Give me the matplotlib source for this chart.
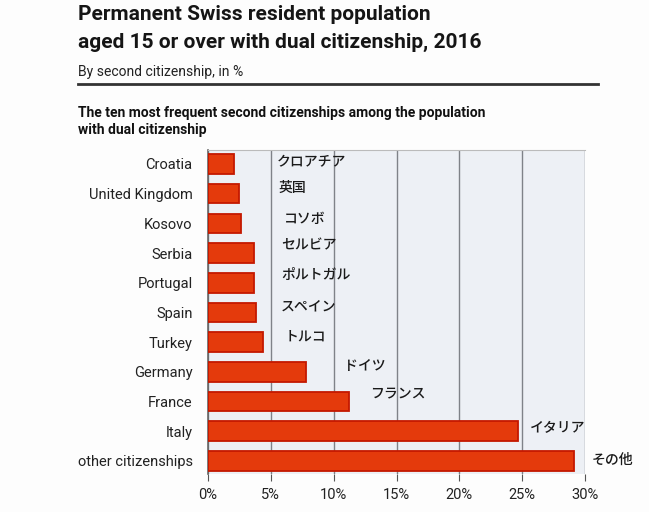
import numpy as np
import matplotlib.pyplot as plt

countries = ['Croatia', 'United Kingdom', 'Kosovo', 'Serbia', 'Portugal', 'Spain',
             'Turkey', 'Germany', 'France', 'Italy', 'other citizenships']
shares = [2.1, 2.5, 2.6, 3.7, 3.7, 3.8, 4.4, 7.8, 11.2, 24.7, 29.1]
names_jp = ['クロアチア', '英国', 'コソボ', 'セルビア', 'ポルトガル', 'スペイン',
            'トルコ', 'ドイツ', 'フランス', 'イタリア', 'その他']
xticks = [0, 5, 10, 15, 20, 25, 30]

# where the japanese notes sit (x in %, y shift in rows)
jp_x = [5.5, 5.6, 6.0, 5.8, 5.8, 5.8, 6.1, 10.8, 12.9, 25.6, 30.5]
jp_dy = [-0.05, -0.2, -0.15, -0.25, -0.25, -0.2, -0.2, -0.2, -0.25, -0.1, -0.05]

plt.rcParams['font.family'] = ['Roboto', 'DejaVu Sans']

fig = plt.figure(figsize=(6.49, 5.12), dpi=100)
fig.patch.set_facecolor('#fdfdfd')
ax = fig.add_axes([208/649, 1-474/512, 377/649, 324/512])
ax.set_facecolor('#edf0f5')

y = np.arange(len(countries))
ax.barh(y, shares, height=0.66, color='#e43a0c', edgecolor='#c41800', linewidth=1.3, zorder=3)
ax.set_ylim(len(countries)-0.56, -0.47)
ax.set_xlim(0, 30)
ax.set_yticks(y)
ax.set_yticklabels(countries, fontsize=10.5, color='#222222')
ax.set_xticks(xticks)
ax.set_xticklabels([f'{t}%' for t in xticks], fontsize=10.5, color='#222222')
ax.tick_params(axis='y', length=0, pad=11)
ax.tick_params(axis='x', length=5, color='#555555', pad=5)
ax.grid(axis='x', color='#7f8288', linewidth=1.0, zorder=1)

for s in ['right', 'bottom']:
    ax.spines[s].set_visible(False)
ax.spines['top'].set_color('#bbbbbb')
ax.spines['left'].set_color('#666666')
ax.spines['left'].set_linewidth(1.2)

for i, t in enumerate(names_jp):
    ax.text(jp_x[i], i + jp_dy[i], t, fontsize=10, va='center', ha='left', fontweight='medium',
            family=['Noto Sans CJK JP', 'DejaVu Sans'], color='#1a1a1a', zorder=4)

fig.text(78/649, 1-15/512, 'Permanent Swiss resident population', fontsize=15,
         fontweight='semibold', va='center', color='#151515')
fig.text(78/649, 1-42/512, 'aged 15 or over with dual citizenship, 2016', fontsize=15,
         fontweight='semibold', va='center', color='#151515')
fig.text(78/649, 1-72/512, 'By second citizenship, in %', fontsize=10,
         va='center', color='#222222')
fig.add_artist(plt.Line2D([78/649, 598/649], [1-84/512, 1-84/512], color='#333333', linewidth=2))
fig.text(78/649, 1-113/512, 'The ten most frequent second citizenships among the population',
         fontsize=10, fontweight='bold', va='center', color='#111111')
fig.text(78/649, 1-130/512, 'with dual citizenship',
         fontsize=10, fontweight='bold', va='center', color='#111111')

fig.savefig('out.png', dpi=100, facecolor=fig.get_facecolor())
